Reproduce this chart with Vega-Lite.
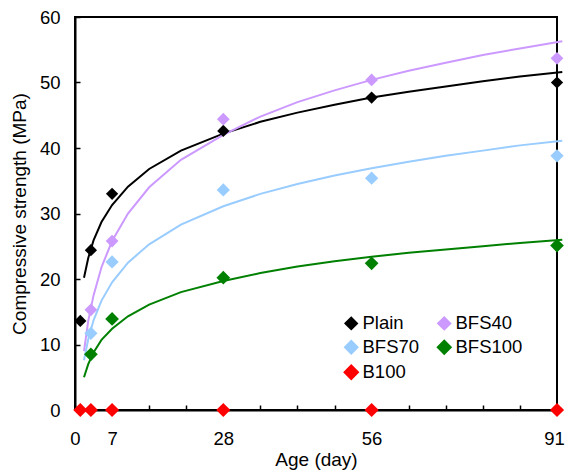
{
  "$schema": "https://vega.github.io/schema/vega-lite/v6.json",
  "width": 482,
  "height": 393,
  "autosize": "none",
  "padding": {"left": 75, "top": 17, "right": 8, "bottom": 60},
  "background": "white",
  "config": {
    "view": {"stroke": "black", "strokeWidth": 2},
    "font": "Liberation Sans",
    "axis": {
      "domainColor": "black", "domainWidth": 2, "tickColor": "black", "tickWidth": 1.5,
      "labelColor": "black", "titleColor": "black", "labelFontSize": 18.5, "titleFontSize": 19,
      "titleFontWeight": "normal", "grid": false, "labelFont": "Liberation Sans", "titleFont": "Liberation Sans"
    },
    "legend": {"labelFont": "Liberation Sans", "labelFontSize": 18.5, "labelColor": "black"}
  },
  "datasets": {
    "pts": [
      {"day": 1, "strength": 13.6, "mix": "Plain"},
      {"day": 3, "strength": 24.4, "mix": "Plain"},
      {"day": 7, "strength": 33.0, "mix": "Plain"},
      {"day": 28, "strength": 42.6, "mix": "Plain"},
      {"day": 56, "strength": 47.7, "mix": "Plain"},
      {"day": 91, "strength": 50.0, "mix": "Plain"},
      {"day": 3, "strength": 15.3, "mix": "BFS40"},
      {"day": 7, "strength": 25.8, "mix": "BFS40"},
      {"day": 28, "strength": 44.4, "mix": "BFS40"},
      {"day": 56, "strength": 50.4, "mix": "BFS40"},
      {"day": 91, "strength": 53.7, "mix": "BFS40"},
      {"day": 3, "strength": 11.7, "mix": "BFS70"},
      {"day": 7, "strength": 22.6, "mix": "BFS70"},
      {"day": 28, "strength": 33.6, "mix": "BFS70"},
      {"day": 56, "strength": 35.4, "mix": "BFS70"},
      {"day": 91, "strength": 38.8, "mix": "BFS70"},
      {"day": 3, "strength": 8.5, "mix": "BFS100"},
      {"day": 7, "strength": 13.9, "mix": "BFS100"},
      {"day": 28, "strength": 20.2, "mix": "BFS100"},
      {"day": 56, "strength": 22.4, "mix": "BFS100"},
      {"day": 91, "strength": 25.1, "mix": "BFS100"},
      {"day": 1, "strength": 0, "mix": "B100"},
      {"day": 3, "strength": 0, "mix": "B100"},
      {"day": 7, "strength": 0, "mix": "B100"},
      {"day": 28, "strength": 0, "mix": "B100"},
      {"day": 56, "strength": 0, "mix": "B100"},
      {"day": 91, "strength": 0, "mix": "B100"}
    ],
    "fit": [
      {"day": 1.7, "strength": 20.2, "mix": "Plain"},
      {"day": 2.5, "strength": 23.2, "mix": "Plain"},
      {"day": 3.5, "strength": 25.9, "mix": "Plain"},
      {"day": 5, "strength": 28.7, "mix": "Plain"},
      {"day": 7, "strength": 31.3, "mix": "Plain"},
      {"day": 10, "strength": 34.1, "mix": "Plain"},
      {"day": 14, "strength": 36.8, "mix": "Plain"},
      {"day": 20, "strength": 39.6, "mix": "Plain"},
      {"day": 28, "strength": 42.2, "mix": "Plain"},
      {"day": 35, "strength": 44.0, "mix": "Plain"},
      {"day": 42, "strength": 45.4, "mix": "Plain"},
      {"day": 49, "strength": 46.6, "mix": "Plain"},
      {"day": 56, "strength": 47.7, "mix": "Plain"},
      {"day": 63, "strength": 48.6, "mix": "Plain"},
      {"day": 70, "strength": 49.4, "mix": "Plain"},
      {"day": 77, "strength": 50.2, "mix": "Plain"},
      {"day": 84, "strength": 50.9, "mix": "Plain"},
      {"day": 92, "strength": 51.6, "mix": "Plain"},
      {"day": 1.7, "strength": 9.0, "mix": "BFS40"},
      {"day": 2.5, "strength": 13.6, "mix": "BFS40"},
      {"day": 3.5, "strength": 17.5, "mix": "BFS40"},
      {"day": 5, "strength": 21.8, "mix": "BFS40"},
      {"day": 7, "strength": 25.8, "mix": "BFS40"},
      {"day": 10, "strength": 30.0, "mix": "BFS40"},
      {"day": 14, "strength": 34.0, "mix": "BFS40"},
      {"day": 20, "strength": 38.2, "mix": "BFS40"},
      {"day": 28, "strength": 42.0, "mix": "BFS40"},
      {"day": 35, "strength": 44.8, "mix": "BFS40"},
      {"day": 42, "strength": 47.0, "mix": "BFS40"},
      {"day": 49, "strength": 48.8, "mix": "BFS40"},
      {"day": 56, "strength": 50.4, "mix": "BFS40"},
      {"day": 63, "strength": 51.8, "mix": "BFS40"},
      {"day": 70, "strength": 53.0, "mix": "BFS40"},
      {"day": 77, "strength": 54.2, "mix": "BFS40"},
      {"day": 84, "strength": 55.2, "mix": "BFS40"},
      {"day": 92, "strength": 56.3, "mix": "BFS40"},
      {"day": 1.7, "strength": 7.6, "mix": "BFS70"},
      {"day": 2.5, "strength": 10.8, "mix": "BFS70"},
      {"day": 3.5, "strength": 13.7, "mix": "BFS70"},
      {"day": 5, "strength": 16.7, "mix": "BFS70"},
      {"day": 7, "strength": 19.5, "mix": "BFS70"},
      {"day": 10, "strength": 22.5, "mix": "BFS70"},
      {"day": 14, "strength": 25.3, "mix": "BFS70"},
      {"day": 20, "strength": 28.3, "mix": "BFS70"},
      {"day": 28, "strength": 31.1, "mix": "BFS70"},
      {"day": 35, "strength": 33.0, "mix": "BFS70"},
      {"day": 42, "strength": 34.5, "mix": "BFS70"},
      {"day": 49, "strength": 35.8, "mix": "BFS70"},
      {"day": 56, "strength": 36.9, "mix": "BFS70"},
      {"day": 63, "strength": 37.9, "mix": "BFS70"},
      {"day": 70, "strength": 38.8, "mix": "BFS70"},
      {"day": 77, "strength": 39.6, "mix": "BFS70"},
      {"day": 84, "strength": 40.4, "mix": "BFS70"},
      {"day": 92, "strength": 41.1, "mix": "BFS70"},
      {"day": 1.7, "strength": 5.0, "mix": "BFS100"},
      {"day": 2.5, "strength": 7.0, "mix": "BFS100"},
      {"day": 3.5, "strength": 8.8, "mix": "BFS100"},
      {"day": 5, "strength": 10.7, "mix": "BFS100"},
      {"day": 7, "strength": 12.4, "mix": "BFS100"},
      {"day": 10, "strength": 14.3, "mix": "BFS100"},
      {"day": 14, "strength": 16.1, "mix": "BFS100"},
      {"day": 20, "strength": 18.0, "mix": "BFS100"},
      {"day": 28, "strength": 19.7, "mix": "BFS100"},
      {"day": 35, "strength": 20.9, "mix": "BFS100"},
      {"day": 42, "strength": 21.9, "mix": "BFS100"},
      {"day": 49, "strength": 22.7, "mix": "BFS100"},
      {"day": 56, "strength": 23.4, "mix": "BFS100"},
      {"day": 63, "strength": 24.0, "mix": "BFS100"},
      {"day": 70, "strength": 24.5, "mix": "BFS100"},
      {"day": 77, "strength": 25.0, "mix": "BFS100"},
      {"day": 84, "strength": 25.5, "mix": "BFS100"},
      {"day": 92, "strength": 26.0, "mix": "BFS100"}
    ]
  },
  "encoding": {
    "x": {
      "field": "day", "type": "quantitative",
      "scale": {"domain": [0, 91], "nice": false, "zero": false},
      "axis": {
        "title": "Age (day)", "values": [0, 7, 14, 21, 28, 35, 42, 49, 56, 63, 70, 77, 84, 91],
        "labelExpr": "indexof([0, 7, 28, 56, 91], datum.value) >= 0 ? datum.label : ''",
        "labelOffset": {"condition": {"test": "datum.value == 91", "value": -3}, "value": 0},
        "tickSize": -5, "labelPadding": 24, "titlePadding": 3, "labelFlush": false
      }
    },
    "y": {
      "field": "strength", "type": "quantitative",
      "scale": {"domain": [0, 60], "nice": false},
      "axis": {"title": "Compressive strength (MPa)", "values": [0, 10, 20, 30, 40, 50, 60], "tickSize": -5, "labelPadding": 20, "titlePadding": 10}
    }
  },
  "layer": [
    {
      "data": {"name": "fit"},
      "mark": {"type": "line", "strokeWidth": 2},
      "encoding": {
        "color": {
          "field": "mix", "type": "nominal",
          "scale": {"domain": ["Plain", "BFS40", "BFS70", "BFS100", "B100"], "range": ["#000000", "#CC99FF", "#99CCFF", "#008000", "#FF0000"]},
          "legend": {
            "title": null, "orient": "none", "direction": "horizontal", "legendX": 267, "legendY": 297, "columns": 2,
            "symbolType": "diamond", "symbolSize": 70, "labelOffset": 2, "columnPadding": 14, "rowPadding": 4, "padding": 0
          }
        }
      }
    },
    {
      "data": {"name": "pts"},
      "mark": {"type": "point", "shape": "diamond", "filled": true, "opacity": 1},
      "encoding": {
        "color": {
          "field": "mix", "type": "nominal",
          "scale": {"domain": ["Plain", "BFS40", "BFS70", "BFS100", "B100"], "range": ["#000000", "#CC99FF", "#99CCFF", "#008000", "#FF0000"]},
          "legend": {
            "title": null, "orient": "none", "direction": "horizontal", "legendX": 267, "legendY": 297, "columns": 2,
            "symbolType": "diamond", "symbolSize": 70, "labelOffset": 2, "columnPadding": 14, "rowPadding": 4, "padding": 0
          }
        },
        "size": {
          "field": "mix", "type": "nominal", "legend": null,
          "scale": {"domain": ["Plain", "BFS40", "BFS70", "BFS100", "B100"], "range": [150, 200, 200, 150, 240]}
        }
      }
    }
  ]
}
